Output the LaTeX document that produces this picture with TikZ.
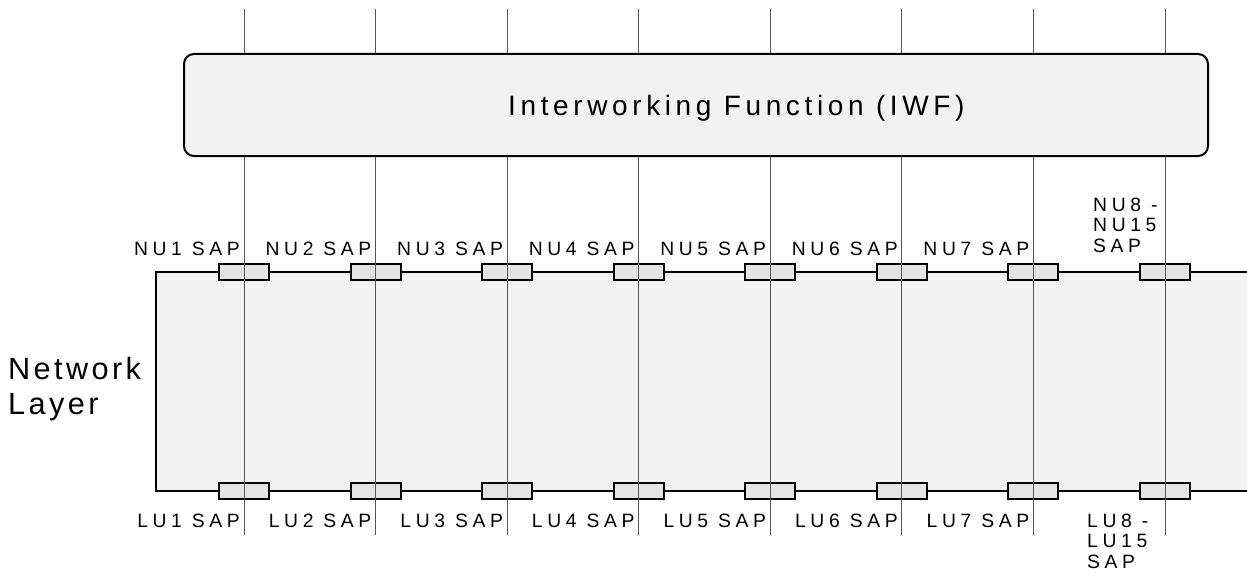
\documentclass[tikz,border=0pt]{standalone}
\usepackage{fontspec}
\setmainfont{Liberation Sans}
\newfontfamily\saplabelfont[LetterSpace=24]{Liberation Sans}
\newfontfamily\iwftitlefont[LetterSpace=16.5]{Liberation Sans}
\newfontfamily\layerfont[LetterSpace=11]{Liberation Sans}
\usepackage{xcolor}
\usepackage{tikz}
\usetikzlibrary{positioning, calc}
\definecolor{boxgray}{HTML}{F2F2F2}
\definecolor{sapgray}{HTML}{E4E4E4}
\definecolor{linegray}{HTML}{555555}
\tikzset{
  % IWF
  iwf-box/.style={rectangle, rounded corners=10pt, draw=black, line width=2pt, fill=boxgray, minimum width=1024pt, minimum height=102pt, inner sep=0pt},
  iwf-text/.style={anchor=base west, inner sep=0pt, font=\iwftitlefont\fontsize{28}{32}\selectfont},
  % Network layer
  net-edge/.style={draw=black, line width=2pt},
  layer-text/.style={anchor=base west, inner sep=0pt, align=left, font=\layerfont\fontsize{30.7}{35}\selectfont},
  % SAPs
  sap-box/.style={rectangle, draw=black, line width=2pt, fill=sapgray, minimum width=50pt, minimum height=16pt, inner sep=0pt},
  sap-line/.style={draw=linegray, line width=1pt},
  sap-label/.style={anchor=base east, inner sep=0pt, font=\saplabelfont\fontsize{19.3}{20.5}\selectfont},
  sap-multi/.style={anchor=base west, inner sep=0pt, align=left, font=\saplabelfont\fontsize{19.3}{20.5}\selectfont}
}
\begin{document}
\begin{tikzpicture}[x=1pt, y=-1pt]
    \useasboundingbox (0,0) rectangle (1247,578);
    % Network layer box, open at the right
    \fill[boxgray] (156,272) rectangle (1247,491);
    \draw[net-edge] (1247,272) -- (156,272) -- (156,491) -- (1247,491);
    \node[layer-text] (layer) at (8,414) {Network\\Layer};

    % IWF box
    \node[iwf-box] (iwf) at (696,105) {};
    \node[iwf-text] (iwftext) at (508,115) {Interworking Function (IWF)};

    % SAPs and their lines
    \foreach \i in {1,...,8} {
        \pgfmathsetmacro{\xpos}{244+131.57*(\i-1)}
        \coordinate (top\i) at (\xpos,9);
        \coordinate (bot\i) at (\xpos,535);
        \node[sap-box] (nsap\i) at (\xpos,272) {};
        \node[sap-box] (lsap\i) at (\xpos,491) {};
        \draw[sap-line] (top\i) -- (top\i |- iwf.north);
        \draw[sap-line] (top\i |- iwf.south) -- (bot\i);
    }
    % SAP labels
    \foreach \i in {1,...,7} {
        \node[sap-label] (nlab\i) at ($(top\i |- 0,255)+(-4,0)$) {NU\i{} SAP};
        \node[sap-label] (llab\i) at ($(top\i |- 0,527)+(-4,0)$) {LU\i{} SAP};
    }
    \node[sap-multi] (nlab8) at (1093,252) {NU8 -\\NU15\\SAP};
    \node[sap-multi] (llab8) at (1087,568) {LU8 -\\LU15\\SAP};
\end{tikzpicture}
\end{document}
